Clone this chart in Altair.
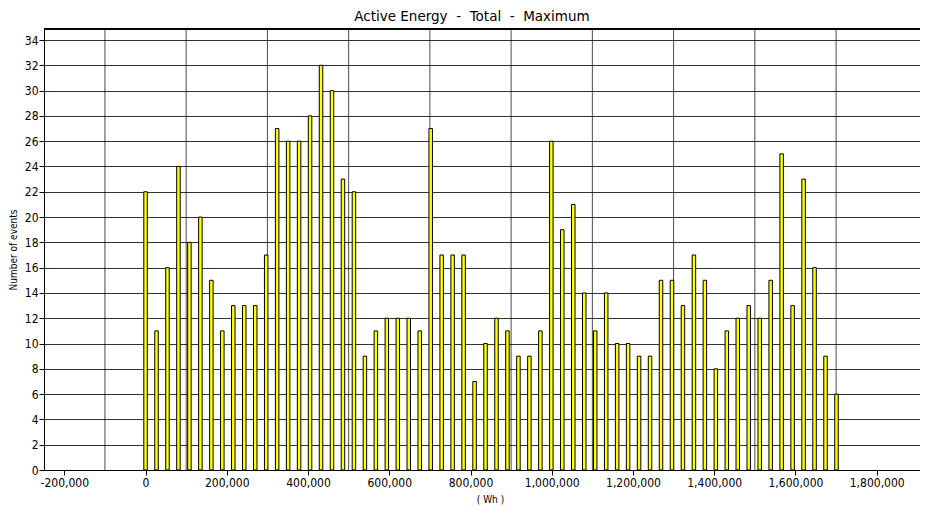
import altair as alt
import pandas as pd

# Bin positions (Wh) and event counts
bins = [0, 27000, 54000, 81000, 108000, 135000, 162000, 189000, 216000, 243000,
        270000, 297000, 324000, 351000, 378000, 405000, 432000, 459000, 486000, 513000,
        540000, 567000, 594000, 621000, 648000, 675000, 702000, 729000, 756000, 783000,
        810000, 837000, 864000, 891000, 918000, 945000, 972000, 999000, 1026000, 1053000,
        1080000, 1107000, 1134000, 1161000, 1188000, 1215000, 1242000, 1269000, 1296000, 1323000,
        1350000, 1377000, 1404000, 1431000, 1458000, 1485000, 1512000, 1539000, 1566000, 1593000,
        1620000, 1647000, 1674000, 1701000]
counts = [22, 11, 16, 24, 18, 20, 15, 11, 13, 13,
          13, 17, 27, 26, 26, 28, 32, 30, 23, 22,
          9, 11, 12, 12, 12, 11, 27, 17, 17, 17,
          7, 10, 12, 11, 9, 9, 11, 26, 19, 21,
          14, 11, 14, 10, 10, 9, 9, 15, 15, 13,
          17, 15, 8, 11, 12, 13, 12, 15, 25, 13,
          23, 16, 9, 6]

x_ticks = [-200000, 0, 200000, 400000, 600000, 800000, 1000000, 1200000,
           1400000, 1600000, 1800000]
x_grid = [-100000, 100000, 300000, 500000, 700000, 900000, 1100000, 1300000,
          1500000, 1700000]
y_ticks = list(range(0, 35, 2))

df = pd.DataFrame({"bin": bins, "count": counts})
grid_df = pd.DataFrame({"g": x_grid})

FONT = "DejaVu Sans Condensed, DejaVu Sans"
XDOM = [-250000, 1906600]
YDOM = [0, 34.87]
NB = "\u00a0"
TITLE = f"Active Energy{NB}{NB}-{NB}{NB}Total{NB}{NB}-{NB}{NB}Maximum"

xscale = alt.Scale(domain=XDOM, nice=False, zero=False, padding=0)
yscale = alt.Scale(domain=YDOM, nice=False, padding=0)

bars = alt.Chart(df).mark_bar(
    size=3.5, color="#FFFF00", stroke="black", strokeWidth=1
).encode(
    x=alt.X("bin:Q", scale=xscale,
            axis=alt.Axis(values=x_ticks, format=",d", grid=False,
                          labelExpr="replace(datum.label, '\u2212', '-')",
                          title="( Wh )", titleFont=FONT, titleFontSize=10,
                          titleFontWeight="normal", titleX=446, titleY=29,
                          titleBaseline="middle",
                          labelFont=FONT, labelFontSize=12, labelColor="black",
                          tickSize=5, tickColor="black", domainColor="black",
                          labelPadding=2, labelFlush=False)),
    y=alt.Y("count:Q", scale=yscale,
            axis=alt.Axis(values=y_ticks, grid=True, gridColor="black",
                          gridOpacity=0.8, gridWidth=1,
                          title="Number of events", titleFont=FONT,
                          titleFontSize=10, titleFontWeight="normal",
                          titleX=-31, titleBaseline="middle",
                          labelFont=FONT, labelFontSize=12, labelColor="black",
                          tickSize=5, tickColor="black", domainColor="black",
                          labelPadding=1)),
)

vgrid = alt.Chart(grid_df).mark_rule(color="black", opacity=0.7, strokeWidth=1).encode(
    x=alt.X("g:Q", scale=xscale),
)

top_border = alt.Chart(grid_df).mark_rule(color="black", opacity=0.8, strokeWidth=1).encode(
    y=alt.value(0),
)

chart = alt.layer(vgrid, bars, top_border).properties(
    width=876,
    height=441,
    title=alt.TitleParams(TITLE, font="DejaVu Sans",
                          fontSize=13.5, fontWeight="normal", color="black",
                          anchor="middle", dx=-10, offset=9, dy=15,
                          baseline="alphabetic"),
    autosize=alt.AutoSizeParams(type="none"),
    padding={"left": 36, "top": 21, "right": 0, "bottom": 38},
).configure_view(stroke=None).configure(background="white")

chart.save("out.html", embed_options={"renderer": "svg", "actions": False})
